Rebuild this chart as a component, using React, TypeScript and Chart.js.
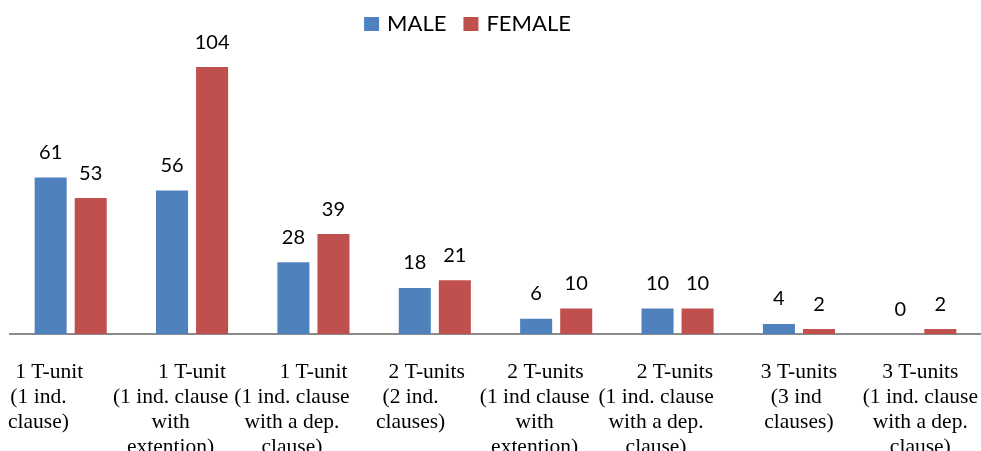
import React, { useEffect, useRef } from "react";
import { Chart, registerables } from "chart.js";

Chart.register(...registerables);

const categories: string[][] = [
  ["1 T-unit", "(1 ind.", "clause)"],
  ["1 T-unit", "(1 ind. clause", "with", "extention)"],
  ["1 T-unit", "(1 ind. clause", "with a dep.", "clause)"],
  ["2 T-units", "(2 ind.", "clauses)"],
  ["2 T-units", "(1 ind clause", "with", "extention)"],
  ["2 T-units", "(1 ind. clause", "with a dep.", "clause)"],
  ["3 T-units", "(3 ind", "clauses)"],
  ["3 T-units", "(1 ind. clause", "with a dep.", "clause)"],
];
const maleValues = [61, 56, 28, 18, 6, 10, 4, 0];
const femaleValues = [53, 104, 39, 21, 10, 10, 2, 2];
const seriesNames = ["MALE", "FEMALE"];
const seriesColors = ["#4F81BD", "#C0504D"];

// layout: trailing-space indents per label line (mimics the original text box alignment)
const labelIndents: number[][] = [
  [8, 12, 12],
  [0, 8, 8, 8],
  [0, 8, 8, 8],
  [3, 9, 9],
  [4, 8, 8, 8],
  [1, 8, 8, 8],
  [0, 1, 0],
  [0, 0, 0, 0],
];

const dataLabelPlugin = {
  id: "dataLabels",
  afterDatasetsDraw(chart: any) {
    const ctx = chart.ctx;
    ctx.save();
    ctx.font = "20px Lato";
    ctx.fillStyle = "#000";
    ctx.textAlign = "center";
    ctx.textBaseline = "middle";
    chart.data.datasets.forEach((ds: any, i: number) => {
      const meta = chart.getDatasetMeta(i);
      meta.data.forEach((bar: any, j: number) => {
        ctx.fillText(String(ds.data[j]), bar.x, bar.y - 25);
      });
    });
    ctx.restore();
  },
};

const legendPlugin = {
  id: "customLegend",
  afterDraw(chart: any) {
    const ctx = chart.ctx;
    ctx.save();
    ctx.font = "22px Lato";
    ctx.textBaseline = "middle";
    ctx.textAlign = "left";
    const box = 15;
    const gapBoxText = 8;
    const gapItems = 17;
    const items = chart.data.datasets.map((ds: any) => ({
      label: ds.label,
      color: ds.backgroundColor,
      w: ctx.measureText(ds.label).width,
    }));
    const total =
      items.reduce((s: number, it: any) => s + box + gapBoxText + it.w, 0) +
      gapItems * (items.length - 1);
    let x = 467.5 - total / 2;
    const cy = 24;
    items.forEach((it: any) => {
      ctx.fillStyle = it.color;
      ctx.fillRect(x, cy - 7, box, 14);
      x += box + gapBoxText;
      ctx.fillStyle = "#000";
      ctx.fillText(it.label, x, cy);
      x += it.w + gapItems;
    });
    ctx.restore();
  },
};

export default function App() {
  const ref = useRef<HTMLCanvasElement>(null);
  useEffect(() => {
    document.body.style.margin = "0";
    const labels = categories.map((lines, i) =>
      lines.map((line, k) => line + " ".repeat(labelIndents[i][k] || 0))
    );
    const chart = new Chart(ref.current!, {
      type: "bar",
      data: {
        labels,
        datasets: seriesNames.map((name, i) => ({
          label: name,
          data: i === 0 ? maleValues : femaleValues,
          backgroundColor: seriesColors[i],
          barPercentage: 0.8,
          categoryPercentage: 0.66,
        })),
      },
      options: {
        animation: false,
        responsive: false,
        layout: { padding: { left: 10, right: 0, top: 44, bottom: 0 } },
        plugins: {
          tooltip: { enabled: false },
          legend: { display: false },
        },
        scales: {
          x: {
            grid: { display: false },
            border: { display: true, color: "#8c8c8c", width: 2 },
            ticks: {
              color: "#000",
              font: { family: "Liberation Serif", size: 21.5, lineHeight: 1.16 },
              padding: 18,
              maxRotation: 0,
              autoSkip: false,
            },
            afterFit: (scale: any) => {
              scale.paddingLeft = 0;
              scale.paddingRight = 0;
            },
          },
          y: {
            display: false,
            min: 0,
            max: 113,
          },
        },
      },
      plugins: [dataLabelPlugin, legendPlugin],
    });
    return () => chart.destroy();
  }, []);
  return (
    <div style={{ width: 981, height: 451, overflow: "hidden" }}>
      <canvas ref={ref} width={981} height={478} style={{ display: "block" }} />
    </div>
  );
}
